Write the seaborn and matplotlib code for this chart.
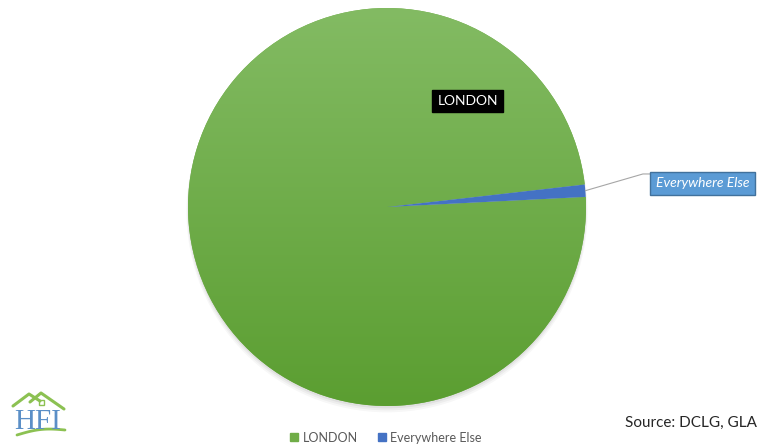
import numpy as np
import matplotlib
matplotlib.use("Agg")
import matplotlib.pyplot as plt
import seaborn as sns
from matplotlib.colors import LinearSegmentedColormap
from matplotlib.patches import Rectangle, Circle
from matplotlib.lines import Line2D

# ---- data ----
categories = ["LONDON", "Everywhere Else"]
values = [99.0, 1.0]
colors = ["#70AD47", "#4472C4"]
source_text = "Source: DCLG, GLA"

sns.set_theme(style="white")
plt.rcParams["font.family"] = ["Lato", "DejaVu Sans"]

W, H = 760, 446
fig = plt.figure(figsize=(W / 100, H / 100), dpi=100)
fig.patch.set_facecolor("white")

# pie geometry in pixels
cx, cy, R = 387, 207, 199
ax = fig.add_axes([0, 0, 1, 1])

wedges, _ = ax.pie(values, colors=colors, startangle=6.5, counterclock=True,
                   radius=1.0, center=(0, 0), frame=True,
                   wedgeprops=dict(linewidth=0))

# soft shadow under pie
for i, a in enumerate([0.05, 0.04, 0.03]):
    sh = Circle((0.0, -0.012 - i * 0.006), 1.0 + i * 0.004, facecolor="black",
                alpha=a, linewidth=0, zorder=0)
    ax.add_patch(sh)

# gradient fill for the green wedge
cmap = LinearSegmentedColormap.from_list("g", ["#5B9E31", "#83BB63"])
grad = np.linspace(0, 1, 256).reshape(-1, 1)
img = ax.imshow(grad, extent=(-1, 1, -1, 1), origin="lower", cmap=cmap,
                aspect="auto", zorder=2)
img.set_clip_path(wedges[0])
wedges[0].set_zorder(1)
wedges[1].set_zorder(3)
ax.set_xlim(-cx / R, (W - cx) / R)
ax.set_ylim(-(H - cy) / R, cy / R)
ax.set_aspect("auto")
ax.axis("off")

# LONDON label
ax.text(0.405, 0.533, categories[0], color="white", fontsize=10,
        ha="center", va="center", zorder=5,
        bbox=dict(boxstyle="square,pad=0.35", facecolor="black", edgecolor="black"))

# Everywhere Else label with leader line
w = wedges[1]
mid = np.deg2rad((w.theta1 + w.theta2) / 2)
px, py = np.cos(mid), np.sin(mid)
elbow = (1.286, 0.166)
ax.plot([px, elbow[0], 1.325], [py, elbow[1], elbow[1]], color="#A6A6A6",
        lw=0.8, zorder=4)
ax.text(1.585, 0.12, categories[1], color="white", fontsize=10, style="italic",
        ha="center", va="center", zorder=5,
        bbox=dict(boxstyle="square,pad=0.4", facecolor="#5B9BD5", edgecolor="#41719C"))

# legend
handles = [Line2D([0], [0], marker="s", color="none", markerfacecolor=c,
                  markeredgecolor=c, markersize=6) for c in colors]
fig.legend(handles, categories, loc="lower center", bbox_to_anchor=(0.507, -0.02),
           ncol=2, frameon=False, fontsize=9, handlelength=0.8, handletextpad=0.3,
           columnspacing=1.5, labelcolor="#595959")

# source
fig.text(757 / W, 1 - 423 / H, source_text, ha="right", va="center",
         fontsize=11, color="#262626")

# logo (decorative)
lax = fig.add_axes([0, 0, 1, 1], zorder=10)
lax.set_xlim(0, W)
lax.set_ylim(H, 0)
lax.axis("off")
g = "#8CC152"
lax.plot([13, 29, 40], [406, 394, 401], color=g, lw=2.2, solid_capstyle="round")
lax.plot([30, 41, 64], [402, 393, 409], color=g, lw=2.2, solid_capstyle="round")
lax.add_patch(Rectangle((38.5, 400), 5, 5, facecolor="none", edgecolor=g, lw=1))
t = np.linspace(0, 1, 30)
lax.plot(17 + 48 * t, 435 - 3 * np.sin(np.pi * t) - 5 * t, color=g, lw=2)
lax.text(38, 422, "HFI", family=["Liberation Serif", "DejaVu Serif"], fontsize=21,
         color="#5B8FC7", ha="center", va="center")

fig.savefig("out.png", dpi=100, facecolor="white")
